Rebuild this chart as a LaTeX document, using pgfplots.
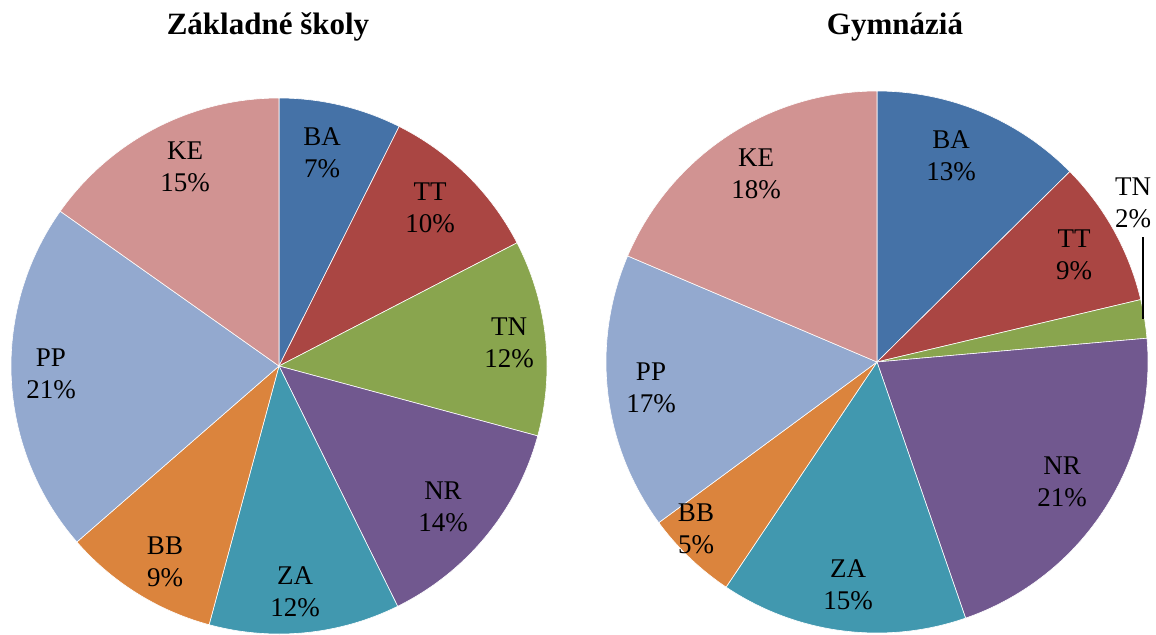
\documentclass[border=0pt]{standalone}
\usepackage{pgfplots}
\pgfplotsset{compat=1.18}
\usepackage{fontspec}
\setmainfont{Liberation Serif}
\definecolor{cBA}{HTML}{4572A7}
\definecolor{cTT}{HTML}{AA4643}
\definecolor{cTN}{HTML}{89A54E}
\definecolor{cNR}{HTML}{71588F}
\definecolor{cZA}{HTML}{4198AF}
\definecolor{cBB}{HTML}{DB843D}
\definecolor{cPP}{HTML}{93A9CF}
\definecolor{cKE}{HTML}{D19392}
\tikzset{lbl/.style={align=center, font=\fontsize{13.5}{16}\selectfont, inner sep=0pt}}
\begin{document}
\begin{tikzpicture}
\begin{axis}[
  x=0.5pt, y=0.5pt, scale only axis,
  xmin=0, xmax=1156, ymin=0, ymax=634,
  hide axis, clip=false,
  samples=80,
  every axis plot/.append style={draw=white, line width=0.3pt},
]
\coordinate (LL) at (axis cs:0,0);
\coordinate (UR) at (axis cs:1156,634);
% Left pie: centre (279,268), r = 268; slices in cumulative percent
\addplot[fill=cBA, domain=0:7.4]    ({279+268*sin(3.6*x)},{268+268*cos(3.6*x)}) -- (axis cs:279,268) -- cycle;
\addplot[fill=cTT, domain=7.4:17.4] ({279+268*sin(3.6*x)},{268+268*cos(3.6*x)}) -- (axis cs:279,268) -- cycle;
\addplot[fill=cTN, domain=17.4:29.2]({279+268*sin(3.6*x)},{268+268*cos(3.6*x)}) -- (axis cs:279,268) -- cycle;
\addplot[fill=cNR, domain=29.2:42.7]({279+268*sin(3.6*x)},{268+268*cos(3.6*x)}) -- (axis cs:279,268) -- cycle;
\addplot[fill=cZA, domain=42.7:54.2]({279+268*sin(3.6*x)},{268+268*cos(3.6*x)}) -- (axis cs:279,268) -- cycle;
\addplot[fill=cBB, domain=54.2:63.6]({279+268*sin(3.6*x)},{268+268*cos(3.6*x)}) -- (axis cs:279,268) -- cycle;
\addplot[fill=cPP, domain=63.6:84.8]({279+268*sin(3.6*x)},{268+268*cos(3.6*x)}) -- (axis cs:279,268) -- cycle;
\addplot[fill=cKE, domain=84.8:100] ({279+268*sin(3.6*x)},{268+268*cos(3.6*x)}) -- (axis cs:279,268) -- cycle;
% Right pie: centre (877,272), r = 271
\addplot[fill=cBA, domain=0:12.6]   ({877+271*sin(3.6*x)},{272+271*cos(3.6*x)}) -- (axis cs:877,272) -- cycle;
\addplot[fill=cTT, domain=12.6:21.3]({877+271*sin(3.6*x)},{272+271*cos(3.6*x)}) -- (axis cs:877,272) -- cycle;
\addplot[fill=cTN, domain=21.3:23.6]({877+271*sin(3.6*x)},{272+271*cos(3.6*x)}) -- (axis cs:877,272) -- cycle;
\addplot[fill=cNR, domain=23.6:44.7]({877+271*sin(3.6*x)},{272+271*cos(3.6*x)}) -- (axis cs:877,272) -- cycle;
\addplot[fill=cZA, domain=44.7:59.4]({877+271*sin(3.6*x)},{272+271*cos(3.6*x)}) -- (axis cs:877,272) -- cycle;
\addplot[fill=cBB, domain=59.4:64.9]({877+271*sin(3.6*x)},{272+271*cos(3.6*x)}) -- (axis cs:877,272) -- cycle;
\addplot[fill=cPP, domain=64.9:81.4]({877+271*sin(3.6*x)},{272+271*cos(3.6*x)}) -- (axis cs:877,272) -- cycle;
\addplot[fill=cKE, domain=81.4:100] ({877+271*sin(3.6*x)},{272+271*cos(3.6*x)}) -- (axis cs:877,272) -- cycle;
% leader line for TN
\addplot[draw=black, line width=0.6pt] coordinates {(1143,397) (1143,315)};
% titles
\node[font=\fontsize{15.5}{18}\selectfont\bfseries] at (axis cs:268,607) {Základné školy};
\node[font=\fontsize{15.5}{18}\selectfont\bfseries] at (axis cs:895,607) {Gymnáziá};
% left labels
\node[lbl] at (axis cs:322,481) {BA\\7\%};
\node[lbl] at (axis cs:430,426) {TT\\10\%};
\node[lbl] at (axis cs:509,291) {TN\\12\%};
\node[lbl] at (axis cs:443,127) {NR\\14\%};
\node[lbl] at (axis cs:295,42)  {ZA\\12\%};
\node[lbl] at (axis cs:165,72)  {BB\\9\%};
\node[lbl] at (axis cs:51,260)  {PP\\21\%};
\node[lbl] at (axis cs:185,467) {KE\\15\%};
% right labels
\node[lbl] at (axis cs:951,478)  {BA\\13\%};
\node[lbl] at (axis cs:1074,379) {TT\\9\%};
\node[lbl] at (axis cs:1133,431) {TN\\2\%};
\node[lbl] at (axis cs:1062,152) {NR\\21\%};
\node[lbl] at (axis cs:848,49)   {ZA\\15\%};
\node[lbl] at (axis cs:696,105)  {BB\\5\%};
\node[lbl] at (axis cs:651,246)  {PP\\17\%};
\node[lbl] at (axis cs:756,460)  {KE\\18\%};
\end{axis}
\pgfresetboundingbox
\useasboundingbox (LL) rectangle (UR);
\end{tikzpicture}
\end{document}
